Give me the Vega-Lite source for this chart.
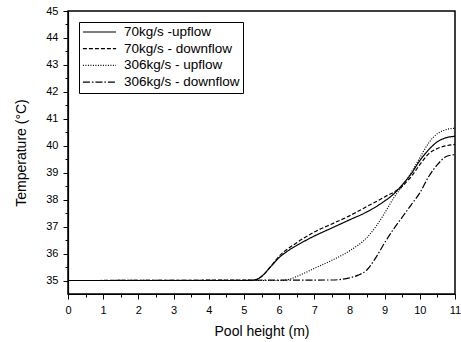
{
  "$schema": "https://vega.github.io/schema/vega-lite/v6.json",
  "width": 387,
  "height": 283,
  "autosize": {"type": "none"},
  "padding": {"left": 68, "top": 11, "right": 6, "bottom": 48},
  "background": "white",
  "config": {
    "view": {"stroke": "black", "strokeWidth": 1.5},
    "font": "Liberation Sans",
    "axis": {"labelFont": "Liberation Sans", "titleFont": "Liberation Sans", "labelColor": "black", "titleColor": "black", "domainColor": "black", "tickColor": "black", "titleFontWeight": "normal", "labelFontSize": 11, "titleFontSize": 14, "grid": false, "domainWidth": 1.2, "tickWidth": 1}
  },
  "data": {"values": [
    {"s": "70kg/s -upflow", "x": 0, "t": 35.0},
    {"s": "70kg/s -upflow", "x": 5.0, "t": 35.0},
    {"s": "70kg/s -upflow", "x": 5.3, "t": 35.02},
    {"s": "70kg/s -upflow", "x": 5.5, "t": 35.15},
    {"s": "70kg/s -upflow", "x": 5.75, "t": 35.5},
    {"s": "70kg/s -upflow", "x": 6.0, "t": 35.85},
    {"s": "70kg/s -upflow", "x": 6.25, "t": 36.1},
    {"s": "70kg/s -upflow", "x": 6.5, "t": 36.3},
    {"s": "70kg/s -upflow", "x": 7.0, "t": 36.65},
    {"s": "70kg/s -upflow", "x": 7.5, "t": 36.95},
    {"s": "70kg/s -upflow", "x": 8.0, "t": 37.25},
    {"s": "70kg/s -upflow", "x": 8.5, "t": 37.55},
    {"s": "70kg/s -upflow", "x": 9.0, "t": 37.95},
    {"s": "70kg/s -upflow", "x": 9.25, "t": 38.2},
    {"s": "70kg/s -upflow", "x": 9.5, "t": 38.55},
    {"s": "70kg/s -upflow", "x": 9.75, "t": 38.95},
    {"s": "70kg/s -upflow", "x": 10.0, "t": 39.45},
    {"s": "70kg/s -upflow", "x": 10.25, "t": 39.85},
    {"s": "70kg/s -upflow", "x": 10.5, "t": 40.15},
    {"s": "70kg/s -upflow", "x": 10.75, "t": 40.3},
    {"s": "70kg/s -upflow", "x": 11.0, "t": 40.35},
    {"s": "70kg/s - downflow", "x": 0, "t": 35.0},
    {"s": "70kg/s - downflow", "x": 5.3, "t": 35.02},
    {"s": "70kg/s - downflow", "x": 5.5, "t": 35.15},
    {"s": "70kg/s - downflow", "x": 5.75, "t": 35.5},
    {"s": "70kg/s - downflow", "x": 6.0, "t": 35.9},
    {"s": "70kg/s - downflow", "x": 6.5, "t": 36.4},
    {"s": "70kg/s - downflow", "x": 7.0, "t": 36.8},
    {"s": "70kg/s - downflow", "x": 7.5, "t": 37.1},
    {"s": "70kg/s - downflow", "x": 8.0, "t": 37.4},
    {"s": "70kg/s - downflow", "x": 8.5, "t": 37.75},
    {"s": "70kg/s - downflow", "x": 9.0, "t": 38.1},
    {"s": "70kg/s - downflow", "x": 9.5, "t": 38.5},
    {"s": "70kg/s - downflow", "x": 9.75, "t": 38.85},
    {"s": "70kg/s - downflow", "x": 10.0, "t": 39.3},
    {"s": "70kg/s - downflow", "x": 10.25, "t": 39.7},
    {"s": "70kg/s - downflow", "x": 10.5, "t": 39.9},
    {"s": "70kg/s - downflow", "x": 10.75, "t": 40.0},
    {"s": "70kg/s - downflow", "x": 11.0, "t": 40.05},
    {"s": "306kg/s - upflow", "x": 0, "t": 35.0},
    {"s": "306kg/s - upflow", "x": 6.0, "t": 35.0},
    {"s": "306kg/s - upflow", "x": 6.3, "t": 35.05},
    {"s": "306kg/s - upflow", "x": 6.5, "t": 35.15},
    {"s": "306kg/s - upflow", "x": 7.0, "t": 35.45},
    {"s": "306kg/s - upflow", "x": 7.5, "t": 35.75},
    {"s": "306kg/s - upflow", "x": 8.0, "t": 36.1},
    {"s": "306kg/s - upflow", "x": 8.5, "t": 36.6},
    {"s": "306kg/s - upflow", "x": 8.75, "t": 37.0},
    {"s": "306kg/s - upflow", "x": 9.0, "t": 37.5},
    {"s": "306kg/s - upflow", "x": 9.25, "t": 38.05},
    {"s": "306kg/s - upflow", "x": 9.5, "t": 38.5},
    {"s": "306kg/s - upflow", "x": 9.75, "t": 39.0},
    {"s": "306kg/s - upflow", "x": 10.0, "t": 39.55},
    {"s": "306kg/s - upflow", "x": 10.25, "t": 40.1},
    {"s": "306kg/s - upflow", "x": 10.5, "t": 40.45},
    {"s": "306kg/s - upflow", "x": 10.75, "t": 40.6},
    {"s": "306kg/s - upflow", "x": 11.0, "t": 40.65},
    {"s": "306kg/s - downflow", "x": 0, "t": 35.0},
    {"s": "306kg/s - downflow", "x": 7.5, "t": 35.02},
    {"s": "306kg/s - downflow", "x": 8.0, "t": 35.1},
    {"s": "306kg/s - downflow", "x": 8.25, "t": 35.2},
    {"s": "306kg/s - downflow", "x": 8.5, "t": 35.4},
    {"s": "306kg/s - downflow", "x": 8.75, "t": 35.85},
    {"s": "306kg/s - downflow", "x": 9.0, "t": 36.4},
    {"s": "306kg/s - downflow", "x": 9.25, "t": 36.9},
    {"s": "306kg/s - downflow", "x": 9.5, "t": 37.35},
    {"s": "306kg/s - downflow", "x": 9.75, "t": 37.8},
    {"s": "306kg/s - downflow", "x": 10.0, "t": 38.25},
    {"s": "306kg/s - downflow", "x": 10.25, "t": 38.85},
    {"s": "306kg/s - downflow", "x": 10.5, "t": 39.3},
    {"s": "306kg/s - downflow", "x": 10.75, "t": 39.6},
    {"s": "306kg/s - downflow", "x": 11.0, "t": 39.67}
  ]},
  "mark": {"type": "line", "color": "black", "strokeWidth": 1.2, "clip": true, "interpolate": "monotone"},
  "encoding": {
    "x": {"field": "x", "type": "quantitative", "scale": {"domain": [0, 11], "nice": false, "zero": false},
      "axis": {"title": "Pool height (m)", "values": [0,0.5,1,1.5,2,2.5,3,3.5,4,4.5,5,5.5,6,6.5,7,7.5,8,8.5,9,9.5,10,10.5,11],
        "labelExpr": "datum.value % 1 === 0 ? format(datum.value, 'd') : ''",
        "tickSize": {"condition": {"test": "datum.value % 1 === 0", "value": 5}, "value": 3},
        "labelPadding": 5, "titlePadding": 9, "labelFlush": false}},
    "y": {"field": "t", "type": "quantitative", "scale": {"domain": [34.5, 45], "nice": false, "zero": false},
      "axis": {"title": "Temperature (°C)", "values": [35,35.5,36,36.5,37,37.5,38,38.5,39,39.5,40,40.5,41,41.5,42,42.5,43,43.5,44,44.5,45],
        "labelExpr": "datum.value % 1 === 0 ? format(datum.value, 'd') : ''",
        "tickSize": {"condition": {"test": "datum.value % 1 === 0", "value": 5}, "value": 3},
        "labelPadding": 5, "titlePadding": 17, "labelFlush": false}},
    "strokeDash": {"field": "s", "type": "nominal",
      "scale": {"domain": ["70kg/s -upflow", "70kg/s - downflow", "306kg/s - upflow", "306kg/s - downflow"],
        "range": [[1, 0], [4, 2], [1, 1.5], [7, 2, 1.5, 2]]},
      "legend": {"title": null, "orient": "top-left", "offset": 11, "strokeColor": "black", "padding": 3,
        "symbolType": "stroke", "symbolSize": 1100, "symbolStrokeColor": "black", "symbolStrokeWidth": 1.2,
        "clipHeight": 14, "rowPadding": 2.7,
        "labelFont": "Liberation Sans", "labelFontSize": 13.5, "labelColor": "black", "labelOffset": 7, "fillColor": "white"}}
  }
}
